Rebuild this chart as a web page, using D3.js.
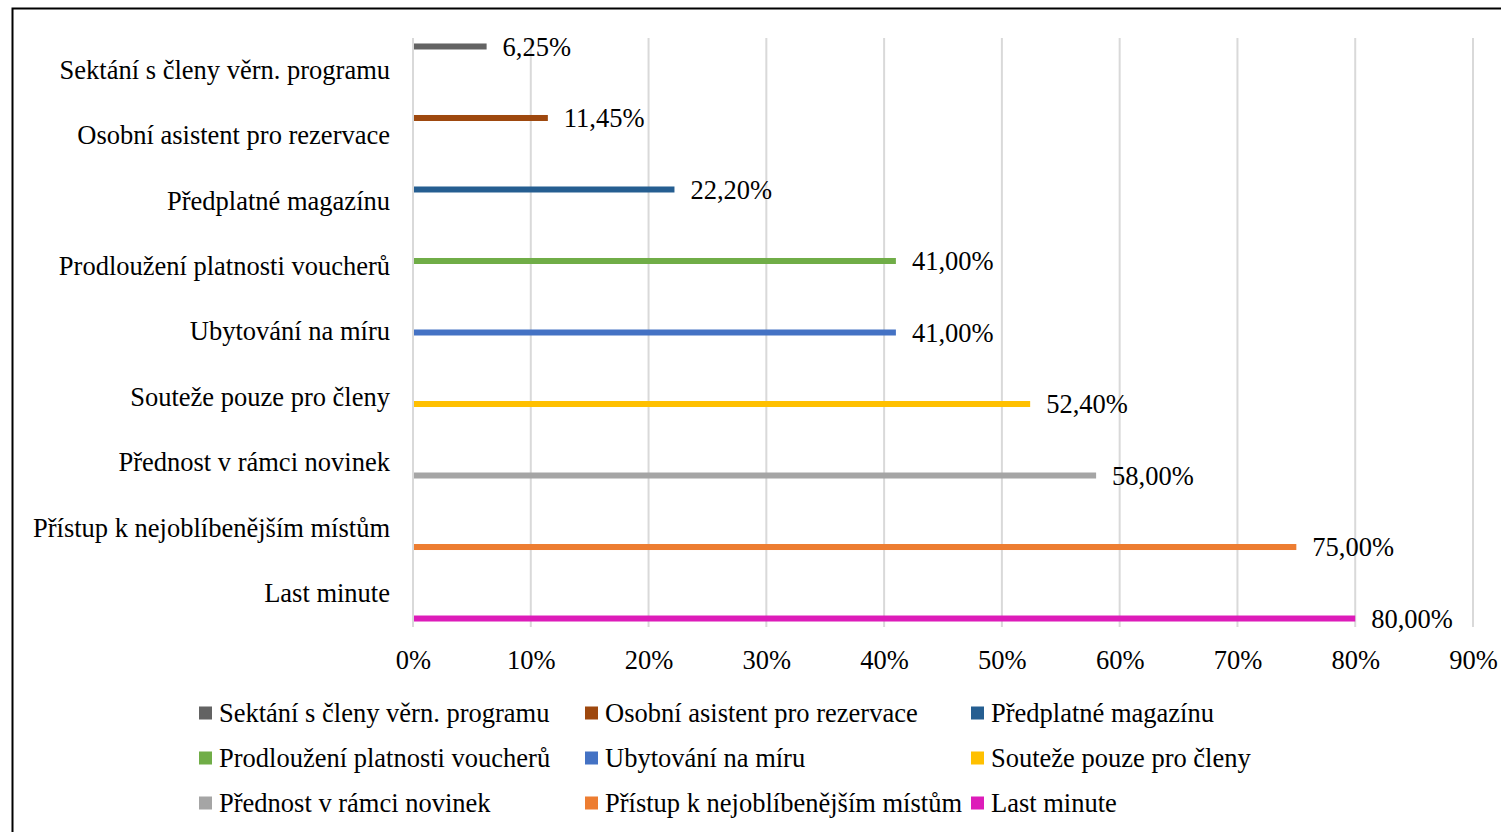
<!DOCTYPE html>
<html>
<head>
<meta charset="utf-8">
<script src="https://cdn.jsdelivr.net/npm/d3@7"></script>
<style>
  body { margin: 0; background: #fff; }
  text { font-family: "Liberation Serif", "Times New Roman", serif; fill: #000; }
</style>
</head>
<body>
<svg id="svg" width="1501" height="832"></svg>
<script>
let categories = [
  "Sektání s členy věrn. programu",
  "Osobní asistent pro rezervace",
  "Předplatné magazínu",
  "Prodloužení platnosti voucherů",
  "Ubytování na míru",
  "Souteže pouze pro členy",
  "Přednost v rámci novinek",
  "Přístup k nejoblíbenějším místům",
  "Last minute"
];
let values = [6.25, 11.45, 22.2, 41.0, 41.0, 52.4, 58.0, 75.0, 80.0];
let colors = ["#636363", "#9e480e", "#255e91", "#70ad47", "#4472c4", "#ffc000", "#a5a5a5", "#ed7d31", "#dd1cb9"];
let xTicks = [0, 10, 20, 30, 40, 50, 60, 70, 80, 90];

let svg = d3.select("#svg");
let fontSize = "26.5px";

// chart border (only left and top show inside the picture)
svg.append("rect")
  .attr("x", 12.5).attr("y", 8.5)
  .attr("width", 1600).attr("height", 900)
  .attr("fill", "none")
  .attr("stroke", "#000")
  .attr("stroke-width", 2);

let plot = { left: 413, right: 1473, top: 38, bottom: 627 };

let x = d3.scaleLinear().domain([0, 90]).range([plot.left, plot.right]);
let y = d3.scaleBand().domain(categories).range([plot.top, plot.bottom]);
// every category holds a slot for each series (clustered bars)
let ySeries = d3.scaleBand().domain(d3.range(categories.length))
  .range([0, y.bandwidth()]).paddingOuter(0.9);

// gridlines
svg.append("g")
  .selectAll("line")
  .data(xTicks)
  .join("line")
  .attr("x1", d => x(d)).attr("x2", d => x(d))
  .attr("y1", plot.top).attr("y2", plot.bottom)
  .attr("stroke", "#d9d9d9")
  .attr("stroke-width", 2);

// x axis labels
let xAxis = svg.append("g")
  .attr("transform", "translate(0," + (plot.bottom + 20) + ")")
  .call(d3.axisBottom(x).tickValues(xTicks).tickSize(0).tickFormat(d => d + "%"));
xAxis.select(".domain").remove();
xAxis.selectAll("text")
  .attr("font-size", fontSize)
  .attr("dy", "0.71em");

// category labels
let yAxis = svg.append("g")
  .attr("transform", "translate(390,0)")
  .call(d3.axisLeft(y).tickSize(0).tickPadding(0));
yAxis.select(".domain").remove();
yAxis.selectAll("text")
  .attr("font-size", fontSize)
  .attr("dy", "0.3em");

// bars
let barH = 6;
svg.append("g")
  .selectAll("rect")
  .data(categories)
  .join("rect")
  .attr("x", x(0) + 1)
  .attr("y", (d, i) => y(d) + ySeries(i) + (ySeries.bandwidth() - barH) / 2)
  .attr("width", (d, i) => x(values[i]) - x(0) - 1)
  .attr("height", barH)
  .attr("fill", (d, i) => colors[i]);

// data labels
svg.append("g")
  .selectAll("text")
  .data(categories)
  .join("text")
  .attr("x", (d, i) => x(values[i]) + 16)
  .attr("y", (d, i) => y(d) + ySeries(i) + ySeries.bandwidth() / 2)
  .attr("dy", "0.35em")
  .attr("font-size", fontSize)
  .text((d, i) => values[i].toFixed(2).replace(".", ",") + "%");

// legend
let legendItem = svg.append("g")
  .selectAll("g")
  .data(categories)
  .join("g")
  .attr("transform", (d, i) => "translate(" + (199 + (i % 3) * 386) + "," + (713 + Math.floor(i / 3) * 45) + ")");
legendItem.append("rect")
  .attr("x", 0).attr("y", -6.5)
  .attr("width", 13).attr("height", 13)
  .attr("fill", (d, i) => colors[i]);
legendItem.append("text")
  .attr("x", 20)
  .attr("dy", "0.33em")
  .attr("font-size", fontSize)
  .text(d => d);
</script>
</body>
</html>
